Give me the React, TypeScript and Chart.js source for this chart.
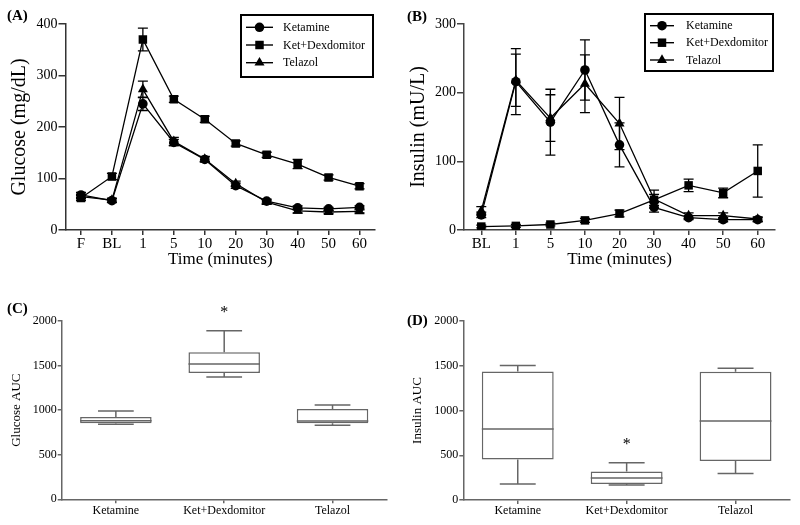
import React, { useEffect, useRef } from 'react';
import { Chart, registerables } from 'chart.js';

Chart.register(...registerables);

const FONT = "'Liberation Serif', 'Times New Roman', serif";
Chart.defaults.font.family = FONT;
Chart.defaults.color = '#000';

// ---------------- data ----------------
const glucoseTimeLabels = ['F', 'BL', '1', '5', '10', '20', '30', '40', '50', '60'];
const insulinTimeLabels = ['BL', '1', '5', '10', '20', '30', '40', '50', '60'];
const groupNames = ['Ketamine', 'Ket+Dexdomitor', 'Telazol'];

const glucoseKetamine = [68, 57, 245, 170, 137, 86, 56, 43, 41, 44];
const glucoseKetDex = [62, 104, 370, 254, 215, 168, 146, 128, 102, 85];
const glucoseTelazol = [65, 58, 273, 172, 138, 90, 54, 37, 35, 36];
const glucoseKetamineSem = [5, 4, 13, 6, 5, 5, 4, 4, 3, 3];
const glucoseKetDexSem = [5, 6, 22, 6, 6, 5, 5, 9, 5, 5];
const glucoseTelazolSem = [4, 4, 16, 8, 5, 5, 4, 4, 3, 3];

const insulinKetamine = [22, 216, 157, 233, 124, 33, 18, 15, 15];
const insulinKetDex = [5, 6, 8, 14, 24, 44, 65, 54, 86];
const insulinTelazol = [28, 218, 163, 213, 155, 45, 21, 21, 16];
const insulinKetamineSem = [4, 48, 48, 44, 32, 7, 3, 3, 3];
const insulinKetDexSem = [2, 2, 2, 3, 5, 8, 9, 7, 38];
const insulinTelazolSem = [6, 38, 34, 42, 38, 13, 4, 4, 3];

const glucoseAucMin = [841, 1372, 830];
const glucoseAucQ1 = [852, 1417, 852];
const glucoseAucMedian = [882, 1518, 879];
const glucoseAucQ3 = [923, 1649, 1013];
const glucoseAucMax = [990, 1892, 1058];

const insulinAucMin = [179, 168, 295];
const insulinAucQ1 = [452, 179, 437];
const insulinAucMedian = [793, 247, 882];
const insulinAucQ3 = [1436, 318, 1432];
const insulinAucMax = [1503, 415, 1473];

const significantGroup = 1;

const pointStyles = ['circle', 'rect', 'triangle'];
const pointRadii = [4.8, 6, 5.8];

// ---------------- helpers ----------------
function drawMarker(ctx: CanvasRenderingContext2D, style: string, x: number, y: number, r: number) {
  ctx.beginPath();
  if (style === 'circle') {
    ctx.arc(x, y, r, 0, Math.PI * 2);
  } else if (style === 'rect') {
    const s = r * Math.SQRT1_2;
    ctx.rect(x - s, y - s, 2 * s, 2 * s);
  } else {
    const a = (2 * Math.PI) / 3;
    ctx.moveTo(x, y - r);
    ctx.lineTo(x + Math.sin(a) * r, y - Math.cos(a) * r);
    ctx.lineTo(x + Math.sin(2 * a) * r, y - Math.cos(2 * a) * r);
    ctx.closePath();
  }
  ctx.fill();
}

function errorBarPlugin(errors: number[][]) {
  return {
    id: 'errorBars',
    beforeDatasetsDraw(chart: any) {
      const ctx = chart.ctx as CanvasRenderingContext2D;
      const ys = chart.scales.y;
      ctx.save();
      ctx.strokeStyle = '#000';
      ctx.lineWidth = 1.3;
      chart.data.datasets.forEach((ds: any, di: number) => {
        const meta = chart.getDatasetMeta(di);
        meta.data.forEach((pt: any, i: number) => {
          const v = ds.data[i] as number;
          const e = errors[di][i];
          const yt = ys.getPixelForValue(v + e);
          const yb = ys.getPixelForValue(v - e);
          const x = pt.x;
          ctx.beginPath();
          ctx.moveTo(x, yt);
          ctx.lineTo(x, yb);
          ctx.moveTo(x - 5, yt);
          ctx.lineTo(x + 5, yt);
          ctx.moveTo(x - 5, yb);
          ctx.lineTo(x + 5, yb);
          ctx.stroke();
        });
      });
      ctx.restore();
    },
  };
}

function legendPlugin(box: { x: number; y: number; w: number; h: number }, rowsY: number[], lineX: [number, number], textX: number) {
  return {
    id: 'boxLegend',
    afterDraw(chart: any) {
      const ctx = chart.ctx as CanvasRenderingContext2D;
      ctx.save();
      ctx.strokeStyle = '#000';
      ctx.lineWidth = 2;
      ctx.strokeRect(box.x, box.y, box.w, box.h);
      chart.data.datasets.forEach((ds: any, i: number) => {
        const y = rowsY[i];
        ctx.lineWidth = 1.4;
        ctx.beginPath();
        ctx.moveTo(lineX[0], y);
        ctx.lineTo(lineX[1], y);
        ctx.stroke();
        ctx.fillStyle = '#000';
        drawMarker(ctx, ds.pointStyle, (lineX[0] + lineX[1]) / 2, y, ds.pointRadius);
        ctx.font = `12px ${FONT}`;
        ctx.textAlign = 'left';
        ctx.textBaseline = 'middle';
        ctx.fillText(ds.label, textX, y + 0.5);
      });
      ctx.restore();
    },
  };
}

function panelLabelPlugin(text: string, x: number, y: number) {
  return {
    id: 'panelLabel',
    afterDraw(chart: any) {
      const ctx = chart.ctx as CanvasRenderingContext2D;
      ctx.save();
      ctx.font = `bold 15px ${FONT}`;
      ctx.fillStyle = '#000';
      ctx.textAlign = 'left';
      ctx.textBaseline = 'middle';
      ctx.fillText(text, x, y);
      ctx.restore();
    },
  };
}

function boxWhiskerPlugin(mins: number[], medians: number[], maxs: number[], star: number, color: string) {
  return {
    id: 'boxWhisker',
    afterDatasetsDraw(chart: any) {
      const ctx = chart.ctx as CanvasRenderingContext2D;
      const ys = chart.scales.y;
      const meta = chart.getDatasetMeta(0);
      ctx.save();
      ctx.strokeStyle = color;
      ctx.lineWidth = 1.5;
      meta.data.forEach((el: any, i: number) => {
        const x = el.x;
        const w = el.width;
        const [q1, q3] = chart.data.datasets[0].data[i] as number[];
        const yMed = ys.getPixelForValue(medians[i]);
        const yQ1 = ys.getPixelForValue(q1);
        const yQ3 = ys.getPixelForValue(q3);
        const yMin = ys.getPixelForValue(mins[i]);
        const yMax = ys.getPixelForValue(maxs[i]);
        ctx.beginPath();
        ctx.moveTo(x - w / 2, yMed);
        ctx.lineTo(x + w / 2, yMed);
        ctx.moveTo(x, yQ3);
        ctx.lineTo(x, yMax);
        ctx.moveTo(x - w / 4, yMax);
        ctx.lineTo(x + w / 4, yMax);
        ctx.moveTo(x, yQ1);
        ctx.lineTo(x, yMin);
        ctx.moveTo(x - w / 4, yMin);
        ctx.lineTo(x + w / 4, yMin);
        ctx.stroke();
        if (i === star) {
          ctx.fillStyle = '#000';
          ctx.font = `16px ${FONT}`;
          ctx.textAlign = 'center';
          ctx.textBaseline = 'middle';
          ctx.fillText('*', x, yMax - 18);
        }
      });
      ctx.restore();
    },
  };
}

function axisCommon(color: string, tickLength: number) {
  return {
    grid: {
      display: true,
      drawOnChartArea: false,
      drawTicks: true,
      tickLength,
      color,
      tickColor: color,
      lineWidth: 1.5,
      offset: false,
    },
    border: { display: true, color, width: 1.5 },
  };
}

const plainNumber = (v: any) => String(v);

function lineConfig(opts: {
  labels: string[];
  series: number[][];
  errors: number[][];
  yMax: number;
  yTitle: string;
  yLeft: number;
  yTitlePad: number;
  axisColor: string;
  legend: ReturnType<typeof legendPlugin>;
  panel: ReturnType<typeof panelLabelPlugin>;
}) {
  return {
    type: 'line',
    data: {
      labels: opts.labels,
      datasets: opts.series.map((d, i) => ({
        label: groupNames[i],
        data: d,
        pointStyle: pointStyles[i],
        pointRadius: pointRadii[i],
        pointBorderWidth: 0,
        pointBackgroundColor: '#000',
        pointBorderColor: '#000',
        borderColor: '#000',
        backgroundColor: '#000',
        borderWidth: 1.3,
        tension: 0,
        fill: false,
      })),
    },
    options: {
      responsive: false,
      animation: false,
      devicePixelRatio: 1,
      layout: { padding: { left: 0, top: 24, right: 25, bottom: 0 } },
      plugins: { legend: { display: false }, tooltip: { enabled: false } },
      scales: {
        x: {
          type: 'category',
          offset: true,
          ...axisCommon(opts.axisColor, 5),
          ticks: { font: { size: 15 }, color: '#000', padding: 0, maxRotation: 0, autoSkip: false },
          title: { display: true, text: 'Time (minutes)', font: { size: 17 }, color: '#000', padding: { top: 0, bottom: 0 } },
          afterFit: (s: any) => { s.height = 40; },
        },
        y: {
          min: 0,
          max: opts.yMax,
          ...axisCommon(opts.axisColor, 7),
          ticks: { stepSize: 100, font: { size: 14 }, color: '#000', padding: 1, callback: plainNumber },
          title: { display: true, text: opts.yTitle, font: { size: 20 }, color: '#000', padding: { top: opts.yTitlePad, bottom: 0 } },
          afterFit: (s: any) => { s.width = opts.yLeft; },
        },
      },
    },
    plugins: [errorBarPlugin(opts.errors), opts.legend, opts.panel],
  };
}

function boxConfig(opts: {
  min: number[]; q1: number[]; med: number[]; q3: number[]; max: number[];
  yTitle: string; yLeft: number; yTitlePad: number; rightPad: number; xHeight: number;
  panel: ReturnType<typeof panelLabelPlugin>;
}) {
  const color = '#666';
  return {
    type: 'bar',
    data: {
      labels: groupNames,
      datasets: [{
        label: opts.yTitle,
        data: opts.q1.map((q, i) => [q, opts.q3[i]]),
        backgroundColor: '#fff',
        borderColor: color,
        borderWidth: 1.5,
        borderSkipped: false,
        barPercentage: 0.66,
        categoryPercentage: 1,
      }],
    },
    options: {
      responsive: false,
      animation: false,
      devicePixelRatio: 1,
      layout: { padding: { left: 0, top: 51, right: opts.rightPad, bottom: 0 } },
      plugins: { legend: { display: false }, tooltip: { enabled: false } },
      scales: {
        x: {
          type: 'category',
          offset: true,
          ...axisCommon(color, 4),
          ticks: { font: { size: 12 }, color: '#000', padding: 0, maxRotation: 0, autoSkip: false },
          afterFit: (s: any) => { s.height = opts.xHeight; },
        },
        y: {
          min: 0,
          max: 2000,
          ...axisCommon(color, 4),
          ticks: { stepSize: 500, font: { size: 12 }, color: '#000', padding: 1, callback: plainNumber },
          title: { display: true, text: opts.yTitle, font: { size: 13 }, color: '#000', padding: { top: opts.yTitlePad, bottom: 0 } },
          afterFit: (s: any) => { s.width = opts.yLeft; },
        },
      },
    },
    plugins: [boxWhiskerPlugin(opts.min, opts.med, opts.max, significantGroup, color), opts.panel],
  };
}

function ChartCanvas({ left, top, width, height, makeConfig }: { left: number; top: number; width: number; height: number; makeConfig: () => any }) {
  const ref = useRef<HTMLCanvasElement>(null);
  useEffect(() => {
    const chart = new Chart(ref.current as HTMLCanvasElement, makeConfig());
    return () => chart.destroy();
  }, []);
  return (
    <canvas
      ref={ref}
      width={width}
      height={height}
      style={{ position: 'absolute', left, top, width, height, display: 'block' }}
    />
  );
}

export default function App() {
  return (
    <div style={{ position: 'fixed', left: 0, top: 0, width: 800, height: 525, background: '#fff', overflow: 'hidden' }}>
      <ChartCanvas
        left={0} top={0} width={400} height={270}
        makeConfig={() => lineConfig({
          labels: glucoseTimeLabels,
          series: [glucoseKetamine, glucoseKetDex, glucoseTelazol],
          errors: [glucoseKetamineSem, glucoseKetDexSem, glucoseTelazolSem],
          yMax: 400,
          yTitle: 'Glucose (mg/dL)',
          yLeft: 65.5,
          yTitlePad: 8,
          axisColor: '#333',
          legend: legendPlugin({ x: 241, y: 15, w: 132, h: 62 }, [27.3, 45, 62.7], [246, 273], 283),
          panel: panelLabelPlugin('(A)', 7, 16),
        })}
      />
      <ChartCanvas
        left={400} top={0} width={400} height={270}
        makeConfig={() => lineConfig({
          labels: insulinTimeLabels,
          series: [insulinKetamine, insulinKetDex, insulinTelazol],
          errors: [insulinKetamineSem, insulinKetDexSem, insulinTelazolSem],
          yMax: 300,
          yTitle: 'Insulin (mU/L)',
          yLeft: 64,
          yTitlePad: 7,
          axisColor: '#444',
          legend: legendPlugin({ x: 245, y: 14, w: 128, h: 57 }, [25.7, 42.7, 60], [250, 274], 286),
          panel: panelLabelPlugin('(B)', 7, 17.5),
        })}
      />
      <ChartCanvas
        left={0} top={270} width={400} height={255}
        makeConfig={() => boxConfig({
          min: glucoseAucMin, q1: glucoseAucQ1, med: glucoseAucMedian, q3: glucoseAucQ3, max: glucoseAucMax,
          yTitle: 'Glucose AUC', yLeft: 61.7, yTitlePad: 9, rightPad: 13.3, xHeight: 25.7,
          panel: panelLabelPlugin('(C)', 7, 39),
        })}
      />
      <ChartCanvas
        left={400} top={270} width={400} height={255}
        makeConfig={() => boxConfig({
          min: insulinAucMin, q1: insulinAucQ1, med: insulinAucMedian, q3: insulinAucQ3, max: insulinAucMax,
          yTitle: 'Insulin AUC', yLeft: 63.3, yTitlePad: 10, rightPad: 10, xHeight: 25,
          panel: panelLabelPlugin('(D)', 7, 51.5),
        })}
      />
    </div>
  );
}
